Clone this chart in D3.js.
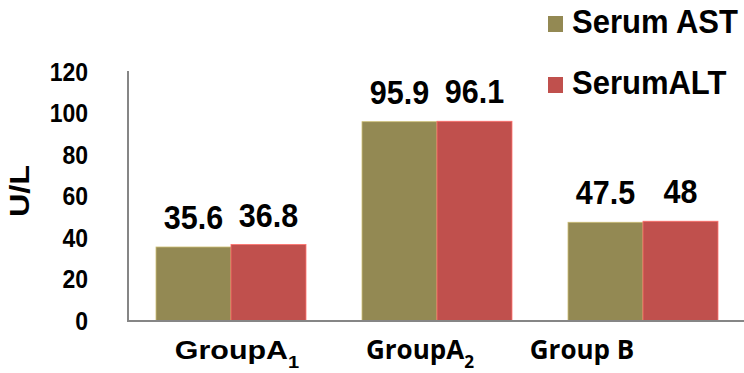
<!DOCTYPE html>
<html>
<head>
<meta charset="utf-8">
<script src="https://cdn.jsdelivr.net/npm/d3@7"></script>
<style>
  html, body { margin: 0; padding: 0; background: #fff; }
  svg { display: block; }
  .arial { font-family: "Liberation Sans", Arial, sans-serif; font-weight: 700; fill: #000; }
  .calibri { font-family: "Open Sans", sans-serif; font-weight: 700; fill: #000; }
</style>
</head>
<body>
<svg id="chart" width="744" height="373"></svg>
<script>
// Serum liver enzymes (U/L) per group
const categories = ["GroupA1", "GroupA2", "Group B"];
const seriesNames = ["Serum AST", "SerumALT"];
const astValues = [35.6, 95.9, 47.5];
const altValues = [36.8, 96.1, 48];
const yTicks = [0, 20, 40, 60, 80, 100, 120];
const colors = ["#938953", "#C0504D"];

const series = [astValues, altValues];

const svg = d3.select("#chart");
const plot = { left: 128, right: 746, top: 71, bottom: 321 };

// place a text at (x, y) with a slight glyph stretch
function placeText(sel, x, y, sx, sy) {
  return sel.attr("transform", `translate(${x},${y}) scale(${sx},${sy})`);
}

const x0 = d3.scaleBand()
  .domain(categories)
  .range([plot.left, plot.right])
  .paddingInner(0.272)
  .paddingOuter(0.136);

const x1 = d3.scaleBand()
  .domain(seriesNames)
  .range([0, x0.bandwidth()]);

const y = d3.scaleLinear().domain([0, 120]).range([plot.bottom, 71.6]);

// bars
categories.forEach((cat, ci) => {
  seriesNames.forEach((name, si) => {
    const v = series[si][ci];
    const bx = x0(cat) + x1(name);
    svg.append("rect")
      .attr("x", bx)
      .attr("y", y(v))
      .attr("width", x1.bandwidth())
      .attr("height", y(0) - y(v))
      .attr("fill", colors[si])
      .attr("stroke", d3.color(colors[si]).brighter(0.9))
      .attr("stroke-width", 0.8);
    placeText(svg.append("text"), bx + x1.bandwidth() / 2, y(v) - 18, 1, 1.1)
      .attr("class", "arial")
      .attr("text-anchor", "middle")
      .attr("font-size", 30.5)
      .text(v);
  });
});

// axes
const yAxis = d3.axisLeft(y).tickValues(yTicks).tickSize(0).tickPadding(40);
const gy = svg.append("g").attr("transform", `translate(${plot.left},0)`).call(yAxis);
gy.select(".domain")
  .attr("d", `M0,${plot.top}V${plot.bottom}`)
  .attr("stroke", "#868686").attr("stroke-width", 2);
gy.selectAll(".tick text")
  .attr("class", "arial")
  .attr("font-size", 23)
  .attr("dy", null)
  .each(function () {
    const t = d3.select(this);
    const tx = +t.attr("x");
    t.attr("x", null);
    placeText(t, tx, 8.5, 1, 1.12);
  });

svg.append("line")
  .attr("x1", plot.left - 1).attr("x2", 744)
  .attr("y1", y(0)).attr("y2", y(0))
  .attr("stroke", "#868686").attr("stroke-width", 2);

// category labels with subscripts
const labelShift = [6, -17, -61];
const labelFont = ["arial", "calibri", "calibri"];
const labelSize = [26, 26, 26];
const labelStretch = [1.17, 1, 1];
categories.forEach((cat, i) => {
  const m = cat.match(/^(.*?)(\d)$/);
  const t = placeText(svg.append("text"),
      x0(cat) + x0.bandwidth() / 2 + labelShift[i], 359, labelStretch[i], 1)
    .attr("class", labelFont[i])
    .attr("text-anchor", "middle")
    .attr("font-size", labelSize[i]);
  if (m) {
    t.append("tspan").text(m[1]);
    t.append("tspan").attr("font-size", labelSize[i] * 0.66).attr("dy", 9).text(m[2]);
  } else {
    t.text(cat);
  }
});

// y axis title
svg.append("text")
  .attr("class", "arial")
  .attr("transform", "translate(29,191) rotate(-90) scale(1.2,1)")
  .attr("text-anchor", "middle")
  .attr("font-size", 27)
  .text("U/L");

// legend
const legend = svg.append("g");
seriesNames.forEach((name, i) => {
  const ly = 33 + i * 61;
  legend.append("rect")
    .attr("x", 548).attr("y", ly - 17)
    .attr("width", 15).attr("height", 16)
    .attr("fill", colors[i]);
  placeText(legend.append("text"), 572, ly, 1, 1.06)
    .attr("class", "arial")
    .attr("font-size", 31)
    .text(name);
});
</script>
</body>
</html>
